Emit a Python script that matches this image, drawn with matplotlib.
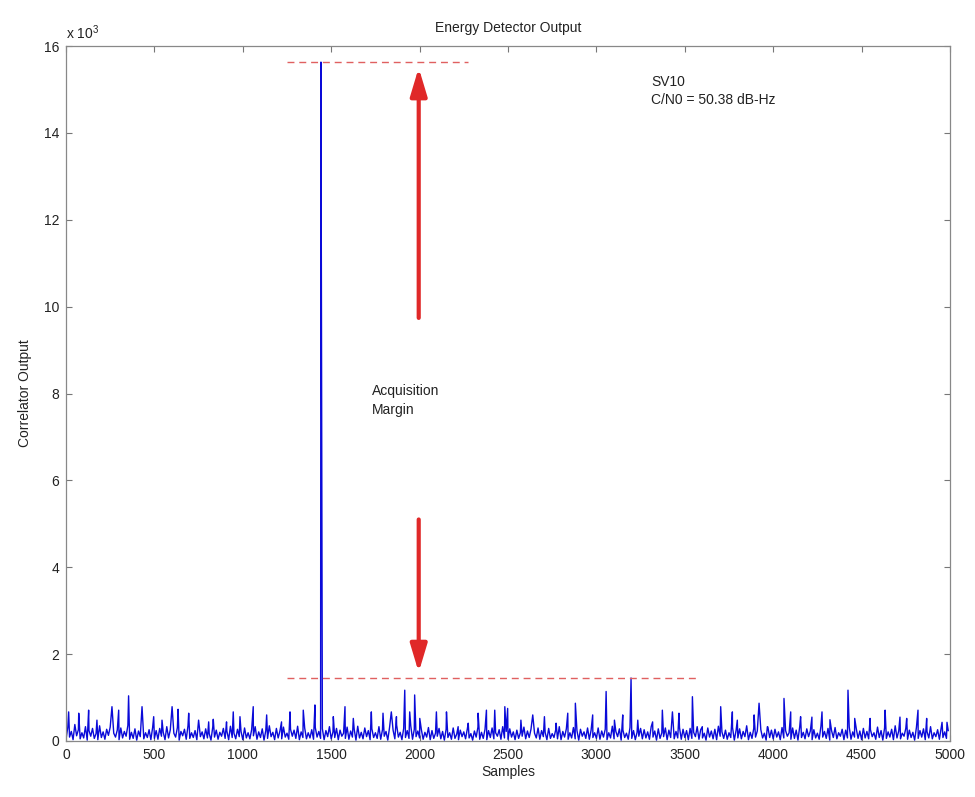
import numpy as np
import matplotlib
matplotlib.use("Agg")
import matplotlib.pyplot as plt

# ---------------- data ----------------
# background noise level, one value every 10 samples (raw correlator units)
base_values = [
    40, 310, 90, 220, 30, 380, 120, 260, 50, 190, 70, 330, 20, 240, 110, 290, 60, 170, 30, 350, 80, 210, 40, 270, 130, 320, 50, 180, 90, 250, 30, 300, 70, 220, 110, 360, 40, 200, 60, 280, 20, 230, 100, 340, 50, 190, 80, 260, 30, 310,
    60, 240, 40, 290, 110, 200, 30, 330, 70, 260, 50, 180, 90, 310, 20, 220, 120, 270, 40, 350, 60, 190, 80, 240, 30, 300, 100, 210, 50, 280, 70, 170, 20, 320, 90, 250, 40, 200, 110, 290, 60, 230, 30, 340, 80, 180, 50, 270, 100, 220,
    30, 300, 70, 190, 50, 260, 120, 330, 40, 210, 80, 280, 20, 240, 60, 350, 100, 200, 30, 290, 70, 230, 50, 320, 90, 180, 40, 270, 110, 250, 60, 340, 30, 210, 80, 300, 50, 190, 70, 260, 40, 310, 90, 220, 60, 280, 30, 240, 100, 330,
    50, 210, 80, 290, 30, 250, 110, 180, 60, 320, 40, 230, 90, 270, 20, 340, 70, 200, 50, 300, 100, 240, 30, 280, 80, 190, 60, 330, 40, 260, 110, 220, 20, 310, 70, 250, 50, 370, 90, 200, 30, 290, 80, 240, 60, 350, 40, 270, 100, 230,
    70, 260, 40, 200, 90, 310, 30, 240, 60, 180, 110, 290, 50, 220, 20, 270, 80, 190, 40, 300, 60, 160, 30, 250, 100, 210, 50, 280, 70, 170, 20, 230, 90, 320, 40, 200, 60, 270, 30, 240, 80, 300, 50, 190, 110, 260, 40, 330, 70, 220,
    40, 280, 90, 210, 30, 250, 60, 190, 110, 320, 50, 230, 80, 270, 20, 180, 70, 300, 40, 240, 100, 200, 30, 290, 60, 170, 80, 260, 50, 330, 30, 220, 90, 280, 40, 190, 70, 310, 50, 240, 20, 270, 110, 210, 60, 300, 40, 250, 80, 190,
    60, 300, 40, 230, 90, 270, 30, 190, 70, 340, 50, 220, 100, 280, 20, 250, 80, 180, 40, 310, 60, 240, 30, 200, 110, 290, 50, 260, 70, 210, 40, 330, 90, 230, 20, 280, 60, 190, 100, 300, 30, 250, 80, 350, 50, 220, 70, 310, 40, 270,
    80, 240, 30, 290, 60, 200, 100, 330, 40, 260, 70, 180, 20, 300, 90, 230, 50, 270, 30, 340, 110, 210, 60, 250, 40, 190, 80, 310, 20, 240, 70, 280, 50, 220, 100, 350, 30, 200, 60, 290, 90, 230, 40, 260, 70, 180, 20, 320, 80, 250,
    50, 270, 90, 210, 30, 310, 70, 240, 110, 190, 40, 300, 60, 250, 20, 330, 80, 200, 50, 280, 100, 230, 30, 260, 70, 180, 40, 340, 90, 220, 60, 290, 20, 240, 80, 310, 50, 190, 110, 270, 30, 250, 70, 320, 40, 210, 90, 280, 60, 230,
    30, 290, 70, 220, 50, 260, 100, 190, 40, 320, 80, 240, 20, 300, 60, 210, 90, 270, 30, 350, 70, 230, 50, 180, 110, 290, 40, 250, 80, 200, 20, 310, 60, 240, 90, 280, 30, 220, 70, 330, 50, 190, 100, 260, 40, 300, 80, 210, 60, 240,
]
base_step = 10

# individual spikes (sample index, value)
peak_samples = [15, 72, 128, 175, 260, 298, 354, 430, 496, 543, 600, 634, 694, 750, 807,
                833, 908, 946, 984, 1059, 1135, 1219, 1267, 1342, 1408, 1442, 1443, 1512,
                1578, 1625, 1727, 1793, 1840, 1869, 1916, 1944, 1972, 2001, 2095, 2152,
                2218, 2275, 2331, 2378, 2425, 2482, 2498, 2573, 2640, 2706, 2772, 2838,
                2881, 2979, 3055, 3102, 3149, 3196, 3234, 3318, 3373, 3430, 3467, 3543,
                3599, 3703, 3769, 3797, 3892, 3920, 3967, 4061, 4099, 4155, 4219, 4276,
                4321, 4423, 4461, 4548, 4633, 4717, 4755, 4819, 4868, 4955, 4983]
peak_values = [670, 640, 710, 480, 790, 710, 1040, 790, 560, 480, 790, 730, 640, 480, 440,
               500, 440, 670, 560, 790, 600, 440, 670, 710, 830, 15630, 13400, 560,
               790, 520, 670, 640, 670, 560, 1170, 670, 1060, 520, 670, 670,
               330, 410, 640, 710, 710, 790, 750, 480, 600, 560, 410, 640,
               870, 600, 1140, 480, 600, 1450, 480, 440, 710, 670, 640, 1020,
               330, 790, 670, 480, 600, 870, 330, 980, 670, 560, 550, 670,
               490, 1170, 520, 520, 710, 550, 520, 710, 520, 430, 430]

# annotation values
peak_level = 15630
noise_max_level = 1450
top_line_span = [1250, 2275]
bottom_line_span = [1250, 3575]
arrow_x = 1995
up_arrow = [9740, 15500]       # tail, tip
down_arrow = [5100, 1580]      # tail, tip

title = "Energy Detector Output"
xlabel = "Samples"
ylabel = "Correlator Output"
xticks = [0, 500, 1000, 1500, 2000, 2500, 3000, 3500, 4000, 4500, 5000]
yticks = [0, 2, 4, 6, 8, 10, 12, 14, 16]

# ---------------- build series ----------------
series = {i * base_step: v for i, v in enumerate(base_values)}
for s, v in zip(peak_samples, peak_values):
    series[s] = v
xs = np.array(sorted(series))
ys = np.array([series[k] for k in xs]) / 1000.0

# ---------------- plot ----------------
plt.rcParams['font.family'] = ['Liberation Sans', 'DejaVu Sans']
plt.rcParams['mathtext.default'] = 'regular'

fig = plt.figure(figsize=(9.75, 7.97), dpi=100)
ax = fig.add_axes([66 / 975, 56 / 797, 884 / 975, 695 / 797])

ax.plot(xs, ys, color='#0a0ad8', lw=1.0)

red = '#e02828'
ax.hlines(peak_level / 1000, *top_line_span, colors='#e06060', linestyles=(0, (5, 3.5)), lw=1.0)
ax.hlines(noise_max_level / 1000, *bottom_line_span, colors='#e06060', linestyles=(0, (5, 3.5)), lw=1.0)

astyle = '-|>,head_length=1.2,head_width=0.36'
ax.annotate('', xy=(arrow_x, up_arrow[1] / 1000), xytext=(arrow_x, up_arrow[0] / 1000),
            arrowprops=dict(arrowstyle=astyle, color=red, lw=3.0, mutation_scale=14,
                            shrinkA=0, shrinkB=0))
ax.annotate('', xy=(arrow_x, down_arrow[1] / 1000), xytext=(arrow_x, down_arrow[0] / 1000),
            arrowprops=dict(arrowstyle=astyle, color=red, lw=3.0, mutation_scale=14,
                            shrinkA=0, shrinkB=0))

tc = '#222222'
ax.text(3309, 15.17, 'SV10', fontsize=10, color=tc, va='center', ha='left')
ax.text(3309, 14.76, 'C/N0 = 50.38 dB-Hz', fontsize=10, color=tc, va='center', ha='left')
ax.text(1731, 8.06, 'Acquisition', fontsize=10, color=tc, va='center', ha='left')
ax.text(1731, 7.62, 'Margin', fontsize=10, color=tc, va='center', ha='left')

ax.set_xlim(0, 5000)
ax.set_ylim(0, 16)
ax.set_xticks(xticks)
ax.set_yticks(yticks)
ax.tick_params(direction='in', top=True, right=True, length=4, width=0.8,
               colors='#777777', labelcolor=tc, labelsize=10, pad=5)
for sp in ax.spines.values():
    sp.set_color('#888888')
    sp.set_linewidth(0.9)

ax.set_title(title, fontsize=10, color=tc, pad=10)
ax.set_xlabel(xlabel, fontsize=10, color=tc, labelpad=2)
ax.set_ylabel(ylabel, fontsize=10, color=tc, labelpad=8)
ax.text(0.0, 1.006, r'x 10$^{3}$', transform=ax.transAxes, fontsize=10, color=tc,
        ha='left', va='bottom')

fig.savefig('out.png', dpi=100, facecolor='white')
